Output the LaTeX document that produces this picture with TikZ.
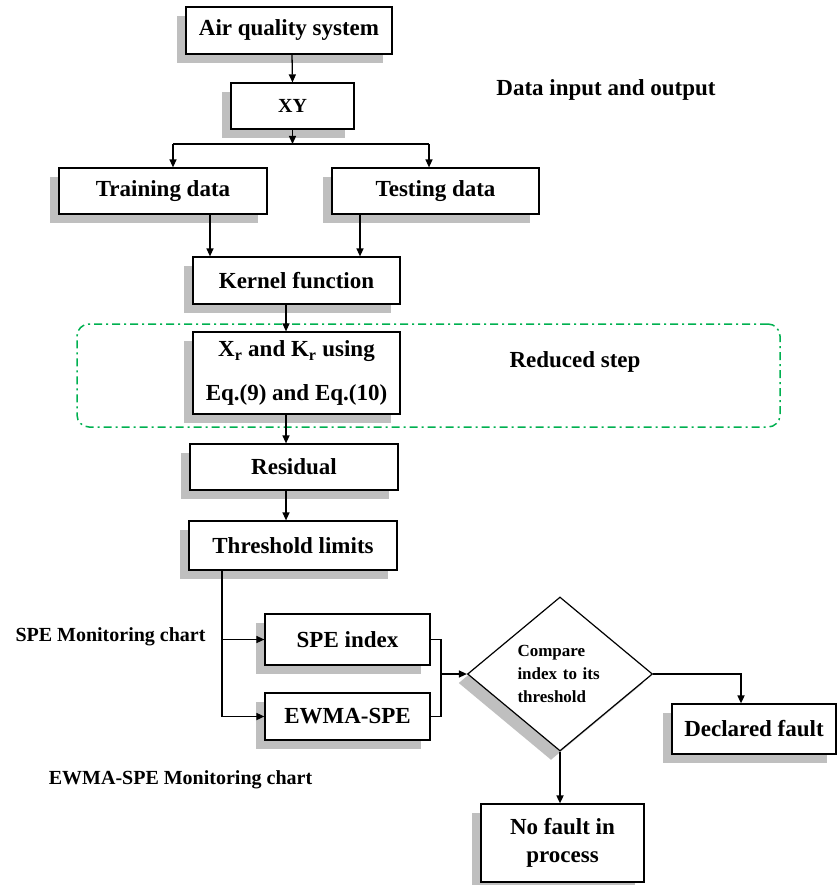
\documentclass[tikz,border=0pt]{standalone}
\usepackage{fontspec}
\setmainfont{Liberation Serif}
\usetikzlibrary{arrows.meta}
\usetikzlibrary{shapes,shadows}
\usetikzlibrary{calc}
\definecolor{stepgreen}{RGB}{0,176,80}

\begin{document}
\begin{tikzpicture}[x=1pt, y=-1pt, font=\fontsize{23}{28}\selectfont\bfseries]
% Define block styles
\tikzstyle{block} = [rectangle, draw, fill=white, line width=1.2pt,
    align=center, inner sep=0pt,
    drop shadow={shadow xshift=-9pt, shadow yshift=-9pt, fill=black!25, opacity=1}]
\tikzstyle{decision} = [diamond, draw, fill=white, line width=1.2pt,
    inner sep=0pt, minimum width=185pt, minimum height=154pt,
    drop shadow={shadow xshift=-9pt, shadow yshift=-9pt, fill=black!25, opacity=1}]
\tikzstyle{frame} = [rectangle, draw=stepgreen, line width=1.5pt, rounded corners=12pt,
    dash pattern=on 8pt off 4pt on 2pt off 4pt]
\tikzstyle{line} = [draw, line width=1.3pt, -{Triangle[length=8pt,width=7pt]}]
\tikzstyle{wire} = [draw, line width=1.3pt]
\tikzstyle{note} = [inner sep=0pt]
\useasboundingbox (0,0) rectangle (837,885);

    % Place nodes
    \node [frame, minimum width=703pt, minimum height=103pt] (reduce) at (428.5,375.5) {};
    \node [block, minimum width=206pt, minimum height=47pt] (air) at (289,30.5) {Air quality system};
    \node [block, minimum width=123pt, minimum height=46pt, font=\fontsize{20}{24}\selectfont\bfseries] (xy) at (292.5,106) {XY};
    \node [block, minimum width=208pt, minimum height=46pt] (train) at (163,191) {Training data};
    \node [block, minimum width=207pt, minimum height=46pt] (test) at (435.5,191) {Testing data};
    \node [block, minimum width=207pt, minimum height=47pt] (kernel) at (296.5,280.5) {Kernel function};
    \node [block, minimum width=207pt, minimum height=82pt] (xr) at (296.5,373)
        {X\textsubscript{r} and K\textsubscript{r} using\\[16pt]Eq.(9) and Eq.(10)};
    \node [block, minimum width=208pt, minimum height=46pt] (resid) at (294,467) {Residual};
    \node [block, minimum width=208pt, minimum height=49pt] (thresh) at (293,545.5) {Threshold limits};
    \node [block, minimum width=165pt, minimum height=51pt] (spe) at (347.5,639.5) {SPE index};
    \node [block, minimum width=165pt, minimum height=47pt] (ewma) at (347.5,716.5) {EWMA-SPE};
    \node [decision, text width=85pt, align=left, font=\fontsize{17}{23}\selectfont\bfseries]
        (cmp) at (560,674) {Compare\\index to its\\threshold};
    \node [block, minimum width=164pt, minimum height=50pt] (fault) at (754,729) {Declared fault};
    \node [block, minimum width=163pt, minimum height=78pt] (nofault) at (562.5,843) {No fault in\\process};
    \node [note] (dataio) at (606,90) {Data input and output};
    \node [note] (reducedtxt) at (575,362) {Reduced step};
    \node [note, font=\fontsize{20}{24}\selectfont\bfseries] (spechart) at (110.5,637) {SPE Monitoring chart};
    \node [note, font=\fontsize{20}{24}\selectfont\bfseries] (ewmachart) at (180.5,780) {EWMA-SPE Monitoring chart};
    \coordinate (split) at (292.5,144);
    \coordinate (splitL) at (173,144);
    \coordinate (splitR) at (429,144);
    \coordinate (tap) at (222,639.5);
    \coordinate (join) at (441,674);
    % Draw edges
    \path [line] ([xshift=3pt]air.south) -- (xy.north);
    \path [line] (xy.south) -- (split);
    \path [wire, line width=1.8pt] (splitL) -- (splitR);
    \path [line] (splitL) -- ([xshift=10pt]train.north);
    \path [line] (splitR) -- ([xshift=-6.5pt]test.north);
    \path [line] ([xshift=47pt]train.south) -- ([xshift=-86.5pt]kernel.north);
    \path [line] ([xshift=-75.5pt]test.south) -- ([xshift=63.5pt]kernel.north);
    \path [line] ([xshift=-10.5pt]kernel.south) -- ([xshift=-10.5pt]xr.north);
    \path [line] ([xshift=-10.5pt]xr.south) -- ([xshift=-8pt]resid.north);
    \path [line] ([xshift=-8pt]resid.south) -- ([xshift=-7pt]thresh.north);
    \path [line, line width=1.6pt] ([xshift=-71pt]thresh.south) |- (ewma.west);
    \path [line] (tap) -- (spe.west);
    \path [wire] (spe.east) -| (join) |- (ewma.east);
    \path [line] (join) -- (cmp.west);
    \path [line, line width=1.6pt] (cmp.east) -| ([xshift=-13pt]fault.north);
    \path [line, line width=1.6pt] (cmp.south) -- ([xshift=-2.5pt]nofault.north);
\end{tikzpicture}
\end{document}
